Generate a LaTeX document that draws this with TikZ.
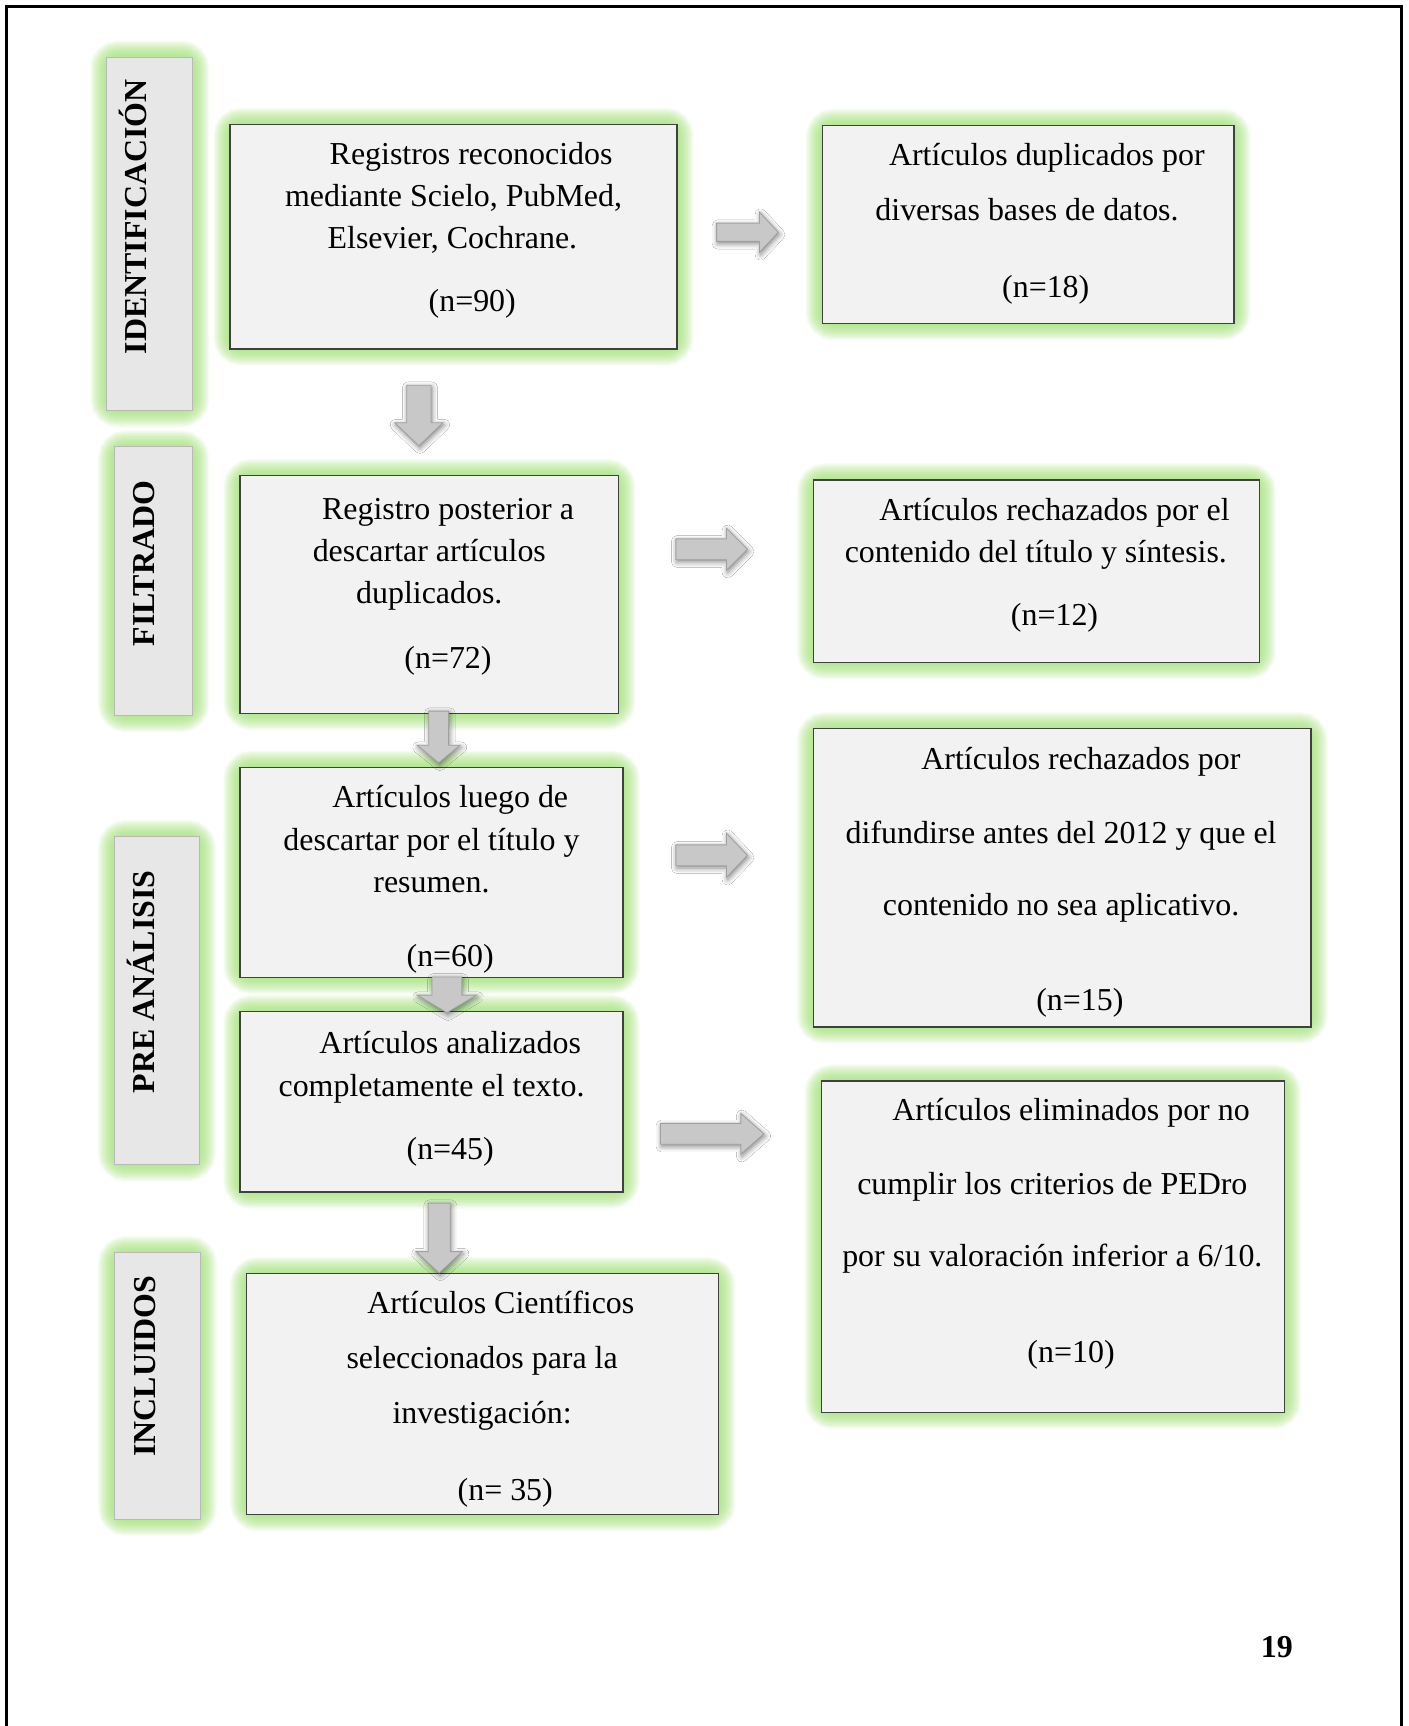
\documentclass[tikz,border=0pt]{standalone}
\usepackage{fontspec}
\setmainfont{Liberation Serif}
\usetikzlibrary{shadows.blur}
\definecolor{glowgreen}{RGB}{150,225,100}
\definecolor{boxfill}{RGB}{242,242,242}
\definecolor{sidefill}{RGB}{231,231,231}
\definecolor{sideline}{RGB}{185,185,185}
\definecolor{arrowfill}{RGB}{200,200,200}
\definecolor{arrowline}{RGB}{160,160,160}
\tikzset{
  mainbox/.style={draw=black!75, line width=1.2pt, fill=boxfill},
  sidebox/.style={draw=sideline, line width=1pt, fill=sidefill},
  glowlayer/.style={draw=glowgreen, rounded corners=10pt, draw opacity=0.085},
  txt/.style={anchor=base, inner sep=0pt, yshift=-2pt, font=\fontsize{29}{35}\selectfont},
  sidetxt/.style={anchor=base, inner sep=0pt, rotate=90, font=\fontsize{29}{35}\selectfont\bfseries},
  blockarrow/.style={fill=arrowfill, draw=arrowline, line width=0.8pt,
    blur shadow={shadow xshift=1pt, shadow yshift=-2pt, shadow blur radius=5pt, shadow opacity=50}},
  pageborder/.style={line width=2.4pt, draw=black},
}
\newcommand\glowbox[6]{%
  \foreach \w in {30,27.5,...,2.5}{\draw[glowlayer, line width=\w pt] (#3,#4) rectangle (#5,#6);}
  \node[#2, inner sep=0pt, outer sep=0pt, minimum width={(#5-#3)*1pt}, minimum height={(#6-#4)*1pt}, anchor=north west] (#1) at (#3,#4) {};
}
\newcommand\rightarr[6]{% x1 xtip xhead yc shaft head
  \path[blockarrow] (#1,{#4-#5/2}) -- (#3,{#4-#5/2}) -- (#3,{#4-#6/2}) -- (#2,#4) -- (#3,{#4+#6/2}) -- (#3,{#4+#5/2}) -- (#1,{#4+#5/2}) -- cycle;}
\newcommand\downarr[6]{% y1 ytip yhead xc shaft head
  \path[blockarrow] ({#4-#5/2},#1) -- ({#4-#5/2},#3) -- ({#4-#6/2},#3) -- (#4,#2) -- ({#4+#6/2},#3) -- ({#4+#5/2},#3) -- ({#4+#5/2},#1) -- cycle;}
\begin{document}
\begin{tikzpicture}[x=1pt,y=-1pt]
\useasboundingbox (0,0) rectangle (1280,1568);
\fill[white] (0,0) rectangle (1280,1568);
\draw[pageborder] (6,1570) -- (6,6) -- (1273,6) -- (1273,1570);

% side boxes
\glowbox{s1}{sidebox}{97}{52}{175}{373}
\glowbox{s2}{sidebox}{104}{406}{175}{650}
\glowbox{s3}{sidebox}{104}{760}{181}{1058}
\glowbox{s4}{sidebox}{104}{1138}{182}{1380}
\node[sidetxt] (s1t) at (133,197) {IDENTIFICACIÓN};
\node[sidetxt] (s2t) at (140,512) {FILTRADO};
\node[sidetxt] (s3t) at (140,892) {PRE ANÁLISIS};
\node[sidetxt] (s4t) at (141,1241) {INCLUIDOS};

% main boxes
\glowbox{b1}{mainbox}{209}{113}{615}{317}
\glowbox{r1}{mainbox}{747}{114}{1121}{294}
\glowbox{b2}{mainbox}{218}{432}{562}{648}
\glowbox{r2}{mainbox}{739}{436}{1144}{602}
\glowbox{b3}{mainbox}{218}{697}{566}{888}
\glowbox{r3}{mainbox}{739}{662}{1191}{933}
\glowbox{b4}{mainbox}{218}{919}{566}{1083}
\glowbox{r4}{mainbox}{746}{982}{1167}{1283}
\glowbox{b5}{mainbox}{224}{1157}{653}{1376}

% texts
\node[txt] (b1a) at (428,147) {Registros reconocidos};
\node[txt] (b1b) at (412,186) {mediante Scielo, PubMed,};
\node[txt] (b1c) at (411,224) {Elsevier, Cochrane.};
\node[txt] (b1n) at (429,281) {(n=90)};

\node[txt] (r1a) at (951,148) {Artículos duplicados por};
\node[txt] (r1b) at (933,198) {diversas bases de datos.};
\node[txt] (r1n) at (950,268) {(n=18)};

\node[txt] (b2a) at (407,470) {Registro posterior a};
\node[txt] (b2b) at (390,508) {descartar artículos};
\node[txt] (b2c) at (390,546) {duplicados.};
\node[txt] (b2n) at (407,605) {(n=72)};

\node[txt] (r2a) at (958,471) {Artículos rechazados por el};
\node[txt] (r2b) at (941,509) {contenido del título y síntesis.};
\node[txt] (r2n) at (958,566) {(n=12)};

\node[txt] (b3a) at (409,732) {Artículos luego de};
\node[txt] (b3b) at (392,771) {descartar por el título y};
\node[txt] (b3c) at (392,809) {resumen.};
\node[txt] (b3n) at (409,876) {(n=60)};

\node[txt] (r3a) at (982,697) {Artículos rechazados por};
\node[txt] (r3b) at (964,764) {difundirse antes del 2012 y que el};
\node[txt] (r3c) at (964,830) {contenido no sea aplicativo.};
\node[txt] (r3n) at (981,916) {(n=15)};

\node[txt] (b4a) at (409,955) {Artículos analizados};
\node[txt] (b4b) at (392,994) {completamente el texto.};
\node[txt] (b4n) at (409,1051) {(n=45)};

\node[txt] (r4a) at (973,1016) {Artículos eliminados por no};
\node[txt] (r4b) at (956,1083) {cumplir los criterios de PEDro};
\node[txt] (r4c) at (956,1149) {por su valoración inferior a 6/10.};
\node[txt] (r4n) at (973,1236) {(n=10)};

\node[txt] (b5a) at (455,1191) {Artículos Científicos};
\node[txt] (b5b) at (438,1241) {seleccionados para la};
\node[txt] (b5c) at (438,1291) {investigación:};
\node[txt] (b5n) at (459,1361) {(n= 35)};

\node[txt, font=\fontsize{29}{35}\selectfont\bfseries] (page) at (1160,1504) {19};

% block arrows
\rightarr{651}{707}{690}{211}{16.5}{36.5}
\rightarr{614}{679}{660}{499}{19}{38}
\rightarr{614}{679}{660}{777}{19}{40}
\rightarr{600}{694}{673}{1030}{19}{37}
\downarr{350}{405}{384}{380.5}{22}{44}
\downarr{646}{693}{677}{398.5}{18}{39}
\downarr{887.5}{920}{904}{406}{27}{54}
\downarr{1093}{1156.5}{1137}{399}{20}{42}
\end{tikzpicture}
\end{document}
